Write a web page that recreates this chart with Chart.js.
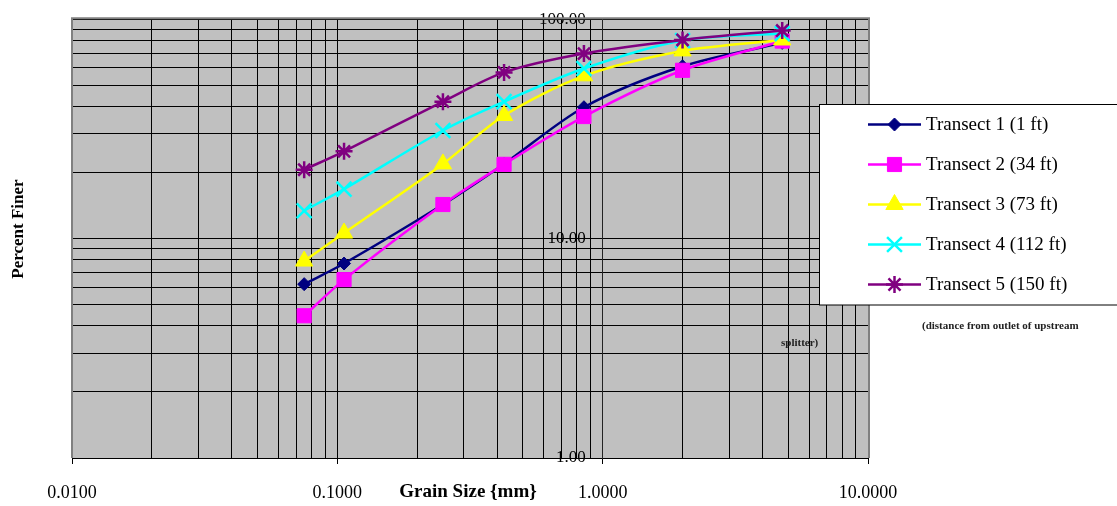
<!DOCTYPE html>
<html>
<head>
<meta charset="utf-8">
<script src="https://cdn.jsdelivr.net/npm/chart.js@4.4.1/dist/chart.umd.min.js"></script>
<style>
  html, body { margin: 0; padding: 0; background: #ffffff; }
  #wrap { width: 1117px; height: 506px; }
</style>
</head>
<body>
<div id="wrap"><canvas id="c" width="1117" height="506"></canvas></div>
<script>
// ---- data ----
const grainSizes = [0.075, 0.106, 0.25, 0.425, 0.85, 2.0, 4.75];
const transect1 = [6.2, 7.7, 14.3, 21.9, 39.7, 61.0, 78.0];
const transect2 = [4.45, 6.5, 14.3, 21.8, 36.0, 58.5, 79.5];
const transect3 = [7.9, 10.6, 21.9, 36.4, 55.2, 71.7, 80.4];
const transect4 = [13.4, 16.8, 31.1, 42.1, 59.6, 80.0, 86.0];
const transect5 = [20.6, 25.0, 42.1, 57.2, 69.7, 80.4, 88.8];
const seriesLabels = ['Transect 1 (1 ft)', 'Transect 2 (34 ft)', 'Transect 3 (73 ft)', 'Transect 4 (112 ft)', 'Transect 5 (150 ft)'];

const xTickValues = [0.01, 0.1, 1, 10];
const xTickLabels = ['0.0100', '0.1000', '1.0000', '10.0000'];
const yTickValues = [1, 10, 100];
const yTickLabels = ['1.00', '10.00', '100.00'];

const xTitle = 'Grain Size {mm}';
const yTitle = 'Percent Finer';
const noteLine1 = '(distance from outlet of upstream';
const noteLine2 = 'splitter)';

// ---- helpers ----
function logGrid(minExp, maxExp) {
  const out = [];
  for (let e = minExp; e < maxExp; e++) {
    for (let m = 1; m <= 9; m++) out.push(Number((m * Math.pow(10, e)).toPrecision(6)));
  }
  out.push(Math.pow(10, maxExp));
  return out;
}
const xGridValues = logGrid(-2, 1);
const yGridValues = logGrid(0, 2);
function isIn(list, v) { return list.some(t => Math.abs(t - v) / t < 1e-9); }
function labelFor(vals, labels, v) {
  const i = vals.findIndex(t => Math.abs(t - v) / t < 1e-9);
  return i >= 0 ? labels[i] : '';
}
function pts(ys) { return grainSizes.map((x, i) => ({ x: x, y: ys[i] })); }

const styles = [
  { color: '#000080', pointStyle: 'rectRot', radius: 6.5, bw: 1 },
  { color: '#FF00FF', pointStyle: 'rect', radius: 10, bw: 1 },
  { color: '#FFFF00', pointStyle: 'triangle', radius: 10, bw: 1 },
  { color: '#00FFFF', pointStyle: 'crossRot', radius: 10.5, bw: 2.5 },
  { color: '#800080', pointStyle: 'star', radius: 8.5, bw: 2.5 }
];
const allSeries = [transect1, transect2, transect3, transect4, transect5];

const datasets = allSeries.map((s, i) => ({
  label: seriesLabels[i],
  data: pts(s),
  borderColor: styles[i].color,
  backgroundColor: styles[i].color,
  borderWidth: 2.5,
  pointStyle: styles[i].pointStyle,
  pointRadius: styles[i].radius,
  pointHoverRadius: styles[i].radius,
  pointBackgroundColor: styles[i].color,
  pointBorderColor: styles[i].color,
  pointBorderWidth: styles[i].bw,
  tension: 0.3,
  fill: false,
  showLine: true,
  clip: false,
  order: 5 - i
}));

const SERIF = "'Liberation Serif', 'Times New Roman', serif";
// spacing that keeps the y labels just left of the tick marks
const Y_LABEL_GAP = '\u2002\u2002';

const decorPlugin = {
  id: 'decor',
  beforeDraw(chart) {
    const { ctx, chartArea: a } = chart;
    ctx.save();
    ctx.fillStyle = '#ffffff';
    ctx.fillRect(0, 0, chart.width, chart.height);
    ctx.fillStyle = '#c0c0c0';
    ctx.fillRect(a.left, a.top, a.right - a.left, a.bottom - a.top);
    ctx.restore();
  },
  beforeDatasetsDraw(chart) {
    const { ctx, chartArea: a } = chart;
    ctx.save();
    ctx.strokeStyle = '#808080';
    ctx.lineWidth = 2;
    ctx.beginPath();
    ctx.moveTo(a.left, a.bottom);
    ctx.lineTo(a.left, a.top - 1);
    ctx.lineTo(a.right + 1, a.top - 1);
    ctx.lineTo(a.right + 1, a.bottom);
    ctx.stroke();
    ctx.restore();
  },
  afterDraw(chart) {
    const ctx = chart.ctx;
    ctx.save();
    // axis titles
    ctx.fillStyle = '#000';
    ctx.font = 'bold 19px ' + SERIF;
    ctx.textAlign = 'center';
    ctx.textBaseline = 'middle';
    ctx.fillText(xTitle, 468, 492);
    ctx.save();
    ctx.translate(19, 229);
    ctx.rotate(-Math.PI / 2);
    ctx.font = 'bold 17px ' + SERIF;
    ctx.fillText(yTitle, 0, 0);
    ctx.restore();

    // legend box
    const lx = 819.5, ly = 104.5, lw = 1117 - 819, lh = 200.5;
    ctx.fillStyle = '#ffffff';
    ctx.fillRect(lx, ly, lw, lh);
    ctx.strokeStyle = '#000';
    ctx.lineWidth = 1;
    ctx.strokeRect(lx, ly, lw, lh);
    chart.data.datasets.forEach((ds, i) => {
      const y = 124.5 + 40 * i;
      ctx.strokeStyle = ds.borderColor;
      ctx.lineWidth = 2.5;
      ctx.beginPath();
      ctx.moveTo(868, y);
      ctx.lineTo(921, y);
      ctx.stroke();
      ctx.fillStyle = ds.pointBackgroundColor;
      ctx.strokeStyle = ds.pointBorderColor;
      ctx.lineWidth = ds.pointBorderWidth;
      Chart.helpers.drawPoint(ctx, {
        pointStyle: ds.pointStyle,
        radius: ds.pointRadius,
        borderWidth: ds.pointBorderWidth,
        rotation: 0
      }, 894.5, y);
      ctx.fillStyle = '#000';
      ctx.font = '19px ' + SERIF;
      ctx.textAlign = 'left';
      ctx.textBaseline = 'middle';
      ctx.fillText(ds.label, 926, y + 1);
    });

    // note text
    ctx.fillStyle = '#222';
    ctx.font = 'bold 11px ' + SERIF;
    ctx.textAlign = 'left';
    ctx.textBaseline = 'middle';
    ctx.fillText(noteLine1, 922, 326);
    ctx.fillText(noteLine2, 781, 343);
    ctx.restore();
  }
};

new Chart(document.getElementById('c'), {
  type: 'line',
  data: { datasets: datasets },
  plugins: [decorPlugin],
  options: {
    responsive: false,
    animation: false,
    devicePixelRatio: 1,
    layout: { padding: { left: 72, right: 249, top: 16, bottom: 0 } },
    plugins: { legend: { display: false }, tooltip: { enabled: false }, title: { display: false } },
    scales: {
      x: {
        type: 'logarithmic',
        position: 'bottom',
        min: 0.01,
        max: 10,
        afterBuildTicks: (scale) => {
          scale.ticks = xGridValues.map(v => ({ value: v, major: isIn(xTickValues, v) }));
        },
        afterFit: (scale) => { scale.height = 48; },
        grid: {
          color: '#000',
          lineWidth: 1,
          drawTicks: true,
          tickLength: 6,
          tickColor: (c) => (c.tick && isIn(xTickValues, c.tick.value)) ? '#000' : 'rgba(0,0,0,0)'
        },
        border: { display: true, color: '#000', width: 1 },
        ticks: {
          autoSkip: false,
          maxRotation: 0,
          minRotation: 0,
          padding: 18,
          color: '#000',
          font: { family: SERIF, size: 18 },
          callback: (v) => labelFor(xTickValues, xTickLabels, v)
        }
      },
      y: {
        type: 'logarithmic',
        position: { x: 1 },
        min: 1,
        max: 100,
        afterBuildTicks: (scale) => {
          scale.ticks = yGridValues.map(v => ({ value: v, major: isIn(yTickValues, v) }));
        },
        grid: {
          color: '#000',
          lineWidth: 1,
          drawTicks: true,
          tickLength: 6,
          tickColor: (c) => (c.tick && isIn(yTickValues, c.tick.value)) ? '#000' : 'rgba(0,0,0,0)'
        },
        border: { display: true, color: '#222', width: 1 },
        ticks: {
          autoSkip: false,
          padding: 9,
          color: '#000',
          font: { family: SERIF, size: 17 },
          callback: (v) => {
            const t = labelFor(yTickValues, yTickLabels, v);
            return t ? t + Y_LABEL_GAP : '';
          }
        }
      }
    }
  }
});
</script>
</body>
</html>
